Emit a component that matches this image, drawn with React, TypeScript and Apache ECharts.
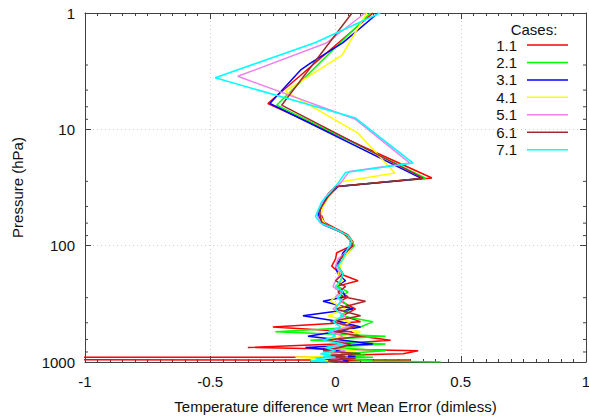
import React, { useEffect, useRef } from "react";
import * as echarts from "echarts";

const CASE_NAMES = ["1.1", "2.1", "3.1", "4.1", "5.1", "6.1", "7.1"];
const CASE_COLORS = ["#ff0000", "#00ff00", "#0000ff", "#ffff00", "#ee82ee", "#a52a2a", "#00ffff"];

const X_TICKS = [-1, -0.5, 0, 0.5, 1];
const Y_TICKS = [1, 10, 100, 1000];
const Y_MINOR = [2.8, 4.6, 6.4, 8.2, 28, 46, 64, 82, 280, 460, 640, 820];

// Upper-atmosphere points: [value, pressure]
const UPPER_11: [number, number][] = [[0.15, 1], [-0.27, 6.0], [0.385, 26.2], [0.0, 31], [-0.03, 36], [-0.065, 49], [-0.045, 63], [0.05, 81], [0.07, 93]];
const UPPER_21: [number, number][] = [[0.14, 1], [-0.235, 6.2], [0.36, 26.3], [0.005, 31], [-0.03, 38], [-0.065, 50], [-0.06, 62], [0.0, 72], [0.055, 84]];
const UPPER_31: [number, number][] = [[0.17, 1], [0.03, 1.8], [-0.1, 2.7], [-0.14, 3.1], [-0.262, 6.0], [0.345, 26.5], [0.01, 31], [-0.04, 40], [-0.07, 54], [-0.05, 66], [0.03, 78], [0.06, 90]];
const UPPER_41: [number, number][] = [[0.125, 1], [0.026, 2.3], [-0.2, 4.7], [0.09, 10.8], [0.237, 23.7], [0.018, 28.4], [-0.02, 36], [-0.05, 46], [-0.06, 56], [-0.04, 66], [0.02, 76], [0.06, 88]];
const UPPER_51: [number, number][] = [[0.118, 1], [-0.034, 1.8], [-0.39, 3.5], [0.08, 8.2], [0.297, 19.5], [0.055, 23], [0.02, 29], [-0.04, 38], [-0.075, 54], [-0.055, 65], [0.01, 74], [0.055, 85]];
const UPPER_61: [number, number][] = [[0.066, 1], [-0.215, 6.2], [0.35, 26.3], [0.005, 31], [-0.03, 38], [-0.065, 50], [-0.055, 63], [0.01, 74], [0.055, 85]];
const UPPER_71: [number, number][] = [[0.178, 1], [-0.082, 1.8], [-0.48, 3.6], [0.08, 8.0], [0.31, 19.5], [0.04, 23.5], [0.01, 29], [-0.055, 42], [-0.08, 56], [-0.06, 64], [0.0, 72], [0.05, 82], [0.065, 92]];

// Lower-atmosphere pressure levels (hPa) and values per case
const LOW_P = [100, 115, 130, 150, 175, 200, 225, 250, 275, 300, 350, 400, 450, 500, 550, 600, 650, 700, 750, 800, 850, 875, 895, 910, 935, 960, 980, 1000];
const LOW_11 = [0.065, 0.005, 0.0, -0.015, 0.02, 0.09, 0.0, 0.02, 0.05, 0.02, 0.08, 0.03, 0.1, -0.25, 0.06, 0.1, 0.22, 0.0, -0.35, 0.33, 0.27, 0.02, 0.06, 0.0, -20, 0.3, 0.0, 0.05];
const LOW_21 = [0.075, 0.05, 0.02, 0.01, 0.03, 0.02, 0.01, 0.05, 0.02, 0.03, 0.06, 0.02, 0.15, 0.1, -0.24, 0.2, -0.1, 0.2, -0.02, 0.2, 0.02, 0.12, 0.0, 0.15, 0.02, 0.1, 0.15, 0.42];
const LOW_31 = [0.06, 0.03, 0.02, 0.0, 0.01, 0.04, 0.0, 0.03, 0.04, -0.05, 0.07, -0.13, 0.02, 0.1, 0.0, -0.11, 0.03, 0.15, -0.12, 0.02, -0.05, 0.0, 0.08, 0.0, 0.03, -0.05, 0.05, -0.05];
const LOW_41 = [0.07, 0.05, 0.03, 0.02, 0.01, 0.03, 0.0, 0.02, 0.0, -0.02, 0.04, -0.03, 0.06, 0.02, 0.1, 0.03, -0.05, 0.05, -0.03, 0.08, -0.05, 0.05, -0.02, -0.16, -0.07, -0.1, 0.02, -0.03];
const LOW_51 = [0.06, 0.04, 0.01, 0.0, 0.02, 0.0, -0.01, 0.02, 0.0, 0.03, -0.01, 0.04, 0.0, 0.05, -0.02, 0.03, 0.0, 0.05, -0.03, 0.04, -0.02, 0.03, 0.0, 0.05, -0.02, 0.03, 0.0, 0.02];
const LOW_61 = [0.07, 0.04, 0.02, 0.01, 0.03, 0.0, 0.04, 0.01, 0.03, 0.12, 0.0, 0.1, -0.02, 0.08, 0.0, 0.1, -0.04, 0.06, 0.02, -0.05, 0.1, -0.02, 0.04, -0.04, 0.08, 0.0, -0.03, 0.04];
const LOW_71 = [0.055, 0.04, 0.03, 0.01, 0.03, 0.02, 0.0, 0.03, 0.01, 0.02, 0.0, 0.03, -0.01, 0.02, -0.03, 0.0, -0.05, 0.03, -0.04, 0.0, -0.06, -0.02, -0.05, 0.0, -0.08, -0.04, -0.1, -0.03];

const UPPERS = [UPPER_11, UPPER_21, UPPER_31, UPPER_41, UPPER_51, UPPER_61, UPPER_71];
const LOWS = [LOW_11, LOW_21, LOW_31, LOW_41, LOW_51, LOW_61, LOW_71];

const FONT = "Liberation Sans, Arial, sans-serif";
const TEXT = "#111";
const BORDER = "#404040";
const GRIDC = "#cfcfcf";

export default function App() {
  const ref = useRef<HTMLDivElement>(null);
  useEffect(() => {
    if (!ref.current) return;
    const chart = echarts.init(ref.current, null, { renderer: "svg" });

    const series: any[] = CASE_NAMES.map((name, i) => ({
      name,
      type: "line",
      xAxisIndex: 0,
      yAxisIndex: 0,
      data: UPPERS[i].concat(LOW_P.map((p, k) => [LOWS[i][k], p] as [number, number])),
      showSymbol: false,
      symbol: "none",
      lineStyle: { color: CASE_COLORS[i], width: 1.5 },
      itemStyle: { color: CASE_COLORS[i] },
      clip: true,
      z: 2 + i,
    }));

    // minor ticks on the pressure axis (left and right), through the axis scale
    series.push({
      type: "custom",
      xAxisIndex: 0,
      yAxisIndex: 0,
      silent: true,
      clip: false,
      z: 20,
      data: Y_MINOR.map((v) => [X_TICKS[0], v]),
      renderItem: (params: any, api: any) => {
        const v = api.value(1);
        const l = api.coord([X_TICKS[0], v]);
        const r = api.coord([X_TICKS[X_TICKS.length - 1], v]);
        return {
          type: "group",
          children: [
            { type: "line", shape: { x1: l[0], y1: l[1], x2: l[0] + 3, y2: l[1] }, style: { stroke: BORDER, lineWidth: 1 } },
            { type: "line", shape: { x1: r[0], y1: r[1], x2: r[0] - 3, y2: r[1] }, style: { stroke: BORDER, lineWidth: 1 } },
          ],
        };
      },
    });

    const legendGraphic: any[] = [
      {
        type: "text",
        x: 534,
        y: 29,
        style: { text: "Cases:", align: "center", textAlign: "center", verticalAlign: "middle", textVerticalAlign: "middle", fontSize: 15, fontFamily: FONT, fill: TEXT },
      },
    ];
    CASE_NAMES.forEach((n, i) => {
      const y = 45 + i * 17.45;
      legendGraphic.push({
        type: "text",
        x: 517,
        y,
        style: { text: n, align: "right", textAlign: "right", verticalAlign: "middle", textVerticalAlign: "middle", fontSize: 15, fontFamily: FONT, fill: TEXT },
      });
      legendGraphic.push({
        type: "line",
        shape: { x1: 527, y1: y, x2: 568, y2: y },
        style: { stroke: CASE_COLORS[i], lineWidth: 1.5 },
      });
    });

    const axisLine = { show: true, onZero: false, lineStyle: { color: BORDER, width: 1 } };
    const tick = { show: true, inside: true, length: 6, lineStyle: { color: BORDER } };
    const minor = { show: true, splitNumber: 10, length: 3, lineStyle: { color: BORDER } };
    const split = { show: true, lineStyle: { type: [1, 3], color: GRIDC, width: 1 } };

    chart.setOption({
      animation: false,
      backgroundColor: "#ffffff",
      grid: { left: 85, right: 3, top: 13, bottom: 56, containLabel: false, outerBoundsMode: "none" },
      xAxis: [
        {
          type: "value",
          position: "bottom",
          min: X_TICKS[0],
          max: X_TICKS[X_TICKS.length - 1],
          interval: 0.5,
          axisLine,
          axisTick: tick,
          minorTick: minor,
          splitLine: split,
          axisLabel: {
            show: true,
            margin: 12,
            fontSize: 15,
            fontFamily: FONT,
            color: TEXT,
            formatter: (v: number) => String(v),
          },
          name: "Temperature difference wrt Mean Error (dimless)",
          nameLocation: "middle",
          nameGap: 37,
          nameTextStyle: { fontSize: 15, fontFamily: FONT, color: TEXT },
        },
        {
          type: "value",
          position: "top",
          min: X_TICKS[0],
          max: X_TICKS[X_TICKS.length - 1],
          interval: 0.5,
          axisLine,
          axisTick: tick,
          minorTick: minor,
          splitLine: { show: false },
          axisLabel: { show: false },
        },
      ],
      yAxis: [
        {
          type: "log",
          logBase: 10,
          position: "left",
          inverse: true,
          min: Y_TICKS[0],
          max: Y_TICKS[Y_TICKS.length - 1],
          axisLine,
          axisTick: tick,
          minorTick: { show: false },
          splitLine: split,
          axisLabel: {
            show: true,
            margin: 10,
            fontSize: 15,
            fontFamily: FONT,
            color: TEXT,
            formatter: (v: number) => String(Math.round(v)),
          },
          name: "Pressure (hPa)",
          nameLocation: "middle",
          nameGap: 60,
          nameRotate: 90,
          nameTextStyle: { fontSize: 15, fontFamily: FONT, color: TEXT },
        },
        {
          type: "log",
          logBase: 10,
          position: "right",
          inverse: true,
          min: Y_TICKS[0],
          max: Y_TICKS[Y_TICKS.length - 1],
          axisLine,
          axisTick: tick,
          minorTick: { show: false },
          splitLine: { show: false },
          axisLabel: { show: false },
        },
      ],
      series,
      graphic: legendGraphic,
    });
    return () => chart.dispose();
  }, []);
  return (
    <div
      ref={ref}
      style={{ position: "fixed", left: 0, top: 0, width: 589, height: 418, background: "#fff" }}
    />
  );
}
